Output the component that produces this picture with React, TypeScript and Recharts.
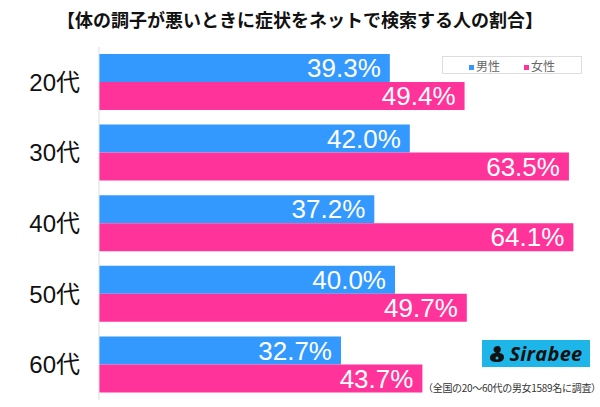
import { BarChart, Bar, XAxis, YAxis, LabelList } from 'recharts'

const ages = ['20代', '30代', '40代', '50代', '60代']
const male = [39.3, 42.0, 37.2, 40.0, 32.7]
const female = [49.4, 63.5, 64.1, 49.7, 43.7]

const BLUE = '#3399ff'
const PINK = '#ff3399'
const FONT = '"Liberation Sans", "Noto Sans CJK JP", sans-serif'

const data = ages.map((age, i) => ({ age, male: male[i], female: female[i] }))

const pct = (v: any) => `${Number(v).toFixed(1)}%`

export default function App() {
    return (
        <div style={{ position: 'absolute', left: 0, top: 0, width: 600, height: 407, background: '#fff', fontFamily: FONT }}>
            <div style={{
                position: 'absolute', top: 6, left: 0, width: 600, textAlign: 'center',
                fontSize: 18, fontWeight: 700, color: '#111', fontFamily: '"Noto Sans CJK JP", sans-serif',
            }}>
                【体の調子が悪いときに症状をネットで検索する人の割合】
            </div>
            <div style={{ position: 'absolute', left: 0, top: 0 }}>
                <BarChart
                    width={600}
                    height={407}
                    data={data}
                    layout="vertical"
                    margin={{ top: 47, right: 0, bottom: 7, left: 0 }}
                    barGap={0}
                >
                    <XAxis type="number" domain={[0, 67.7]} hide />
                    <YAxis
                        type="category"
                        dataKey="age"
                        width={99}
                        tickLine={false}
                        tickSize={0}
                        tickMargin={19}
                        axisLine={{ stroke: '#dddddd' }}
                        tick={{ fontSize: 24, fill: '#111', fontFamily: FONT }}
                    />
                    <Bar dataKey="male" fill={BLUE} barSize={28} isAnimationActive={false}>
                        <LabelList dataKey="male" position="insideRight" offset={9} formatter={pct}
                            style={{ fill: '#fff', fontSize: 26, fontFamily: FONT }} />
                    </Bar>
                    <Bar dataKey="female" fill={PINK} barSize={28} isAnimationActive={false}>
                        <LabelList dataKey="female" position="insideRight" offset={9} formatter={pct}
                            style={{ fill: '#fff', fontSize: 26, fontFamily: FONT }} />
                    </Bar>
                </BarChart>
            </div>
            <div style={{
                position: 'absolute', left: 442, top: 56, width: 138, height: 16, border: '1px solid #ddd',
                display: 'flex', justifyContent: 'center', alignItems: 'center', gap: 24,
                fontSize: 12, color: '#666', fontFamily: '"Noto Sans CJK JP", sans-serif', background: '#fff',
            }}>
                <span><span style={{ display: 'inline-block', width: 5, height: 5, background: BLUE, marginRight: 2, verticalAlign: 'middle' }} />男性</span>
                <span><span style={{ display: 'inline-block', width: 5, height: 5, background: PINK, marginRight: 2, verticalAlign: 'middle' }} />女性</span>
            </div>
            <div style={{
                position: 'absolute', left: 482, top: 340, width: 108, height: 27, background: '#1eb6e8',
                display: 'flex', alignItems: 'center', justifyContent: 'center', gap: 4,
            }}>
                <svg width={16} height={18} viewBox="0 0 16 18">
                    <path d="M9 1 C4 1 3 6 7 8 C2 8 1 11 1 13 C1 16 4 17 8 17 C13 17 15 15 15 12 C15 9 12 8 10 8 C13 6 12 1 9 1 Z" fill="#111" />
                    <circle cx={8} cy={13} r={1.5} fill="#1eb6e8" />
                </svg>
                <span style={{ fontSize: 20, fontWeight: 700, fontStyle: 'italic', color: '#111', fontFamily: '"Open Sans", sans-serif', letterSpacing: 0.3 }}>Sirabee</span>
            </div>
            <div style={{
                position: 'absolute', left: 423, top: 380, fontSize: 10, color: '#333', letterSpacing: -0.3,
                fontFamily: '"Noto Sans CJK JP", sans-serif', whiteSpace: 'nowrap',
            }}>
                （全国の20～60代の男女1589名に調査）
            </div>
        </div>
    )
}
